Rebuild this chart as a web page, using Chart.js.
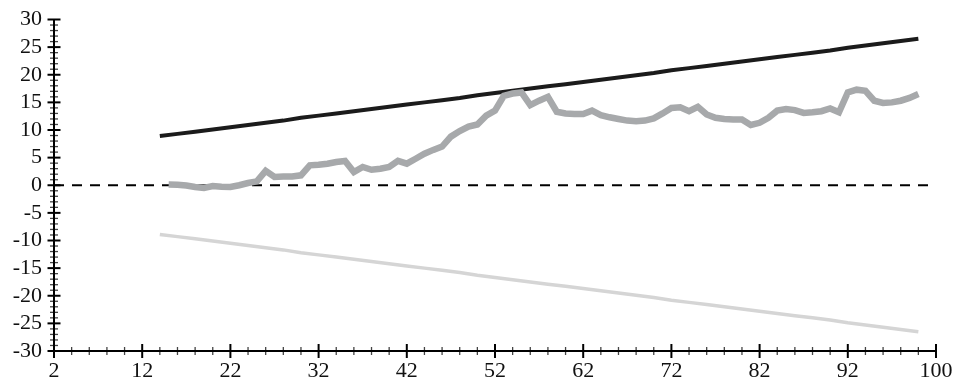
<!DOCTYPE html>
<html>
<head>
<meta charset="utf-8">
<title>CUSUM chart</title>
<script src="https://cdn.jsdelivr.net/npm/chart.js@4.4.1/dist/chart.umd.min.js"></script>
<style>
  html, body { margin: 0; padding: 0; background: #ffffff; }
  #wrap { width: 954px; height: 382px; }
</style>
</head>
<body>
<div id="wrap"><canvas id="chart" width="954" height="382"></canvas></div>
<script>
// Observation numbers and cumulative sum
const cusumX = [15,16,17,18,19,20,21,22,23,24,25,26,27,28,29,30,31,32,33,34,35,36,37,38,39,40,
  41,42,43,44,45,46,47,48,49,50,51,52,53,54,55,56,57,58,59,60,61,62,63,64,65,66,67,68,69,70,
  71,72,73,74,75,76,77,78,79,80,81,82,83,84,85,86,87,88,89,90,91,92,93,94,95,96,97,98,99,100];
const cusum = [0.15,0.1,-0.05,-0.3,-0.5,-0.15,-0.25,-0.3,0.0,0.4,0.7,2.6,1.5,1.6,1.6,1.8,3.6,3.7,3.9,4.2,4.4,
  2.4,3.3,2.8,3.0,3.3,4.4,3.9,4.8,5.7,6.4,7.0,8.8,9.8,10.6,11.0,12.6,13.5,16.2,16.6,16.8,
  14.5,15.3,16.0,13.3,13.0,12.9,12.9,13.5,12.7,12.3,12.0,11.7,11.6,11.7,12.1,
  13.0,14.0,14.1,13.4,14.2,12.8,12.2,12.0,11.9,11.9,10.9,11.3,12.2,13.5,13.8,
  13.6,13.1,13.2,13.4,13.9,13.2,16.8,17.3,17.1,15.3,14.9,15.0,15.3,15.8,16.5];

// Decision limits
const limitX = [14,16,18,20,22,24,26,28,30,32,34,36,38,40,42,44,46,48,50,52,54,56,
  58,60,62,64,66,68,70,72,74,76,78,80,82,84,86,88,90,92,94,96,98,100];
const upperLimit = [8.9,9.3,9.7,10.1,10.5,10.9,11.3,11.7,12.2,12.6,13.0,13.4,13.8,14.2,14.6,15.0,
  15.4,15.8,16.3,16.7,17.1,17.5,17.9,18.3,18.7,19.1,19.5,19.9,20.3,20.8,21.2,21.6,22.0,22.4,
  22.8,23.2,23.6,24.0,24.4,24.9,25.3,25.7,26.1,26.5];
const lowerLimit = [-8.9,-9.3,-9.7,-10.1,-10.5,-10.9,-11.3,-11.7,-12.2,-12.6,-13.0,-13.4,-13.8,-14.2,
  -14.6,-15.0,-15.4,-15.8,-16.3,-16.7,-17.1,-17.5,-17.9,-18.3,-18.7,-19.1,-19.5,-19.9,-20.3,
  -20.8,-21.2,-21.6,-22.0,-22.4,-22.8,-23.2,-23.6,-24.0,-24.4,-24.9,-25.3,-25.7,-26.1,-26.5];

// Reference line at zero
const zeroX = [2, 102];
const zeroY = [0, 0];

// Axis ticks
const xTickValues = [2,12,22,32,42,52,62,72,82,92,102];
const xTickLabels = ['2','12','22','32','42','52','62','72','82','92','100'];
const yTickValues = [-30,-25,-20,-15,-10,-5,0,5,10,15,20,25,30];

const toPoints = (xs, ys) => xs.map((x, i) => ({ x: x, y: ys[i] }));

const FONT = { family: '"Liberation Serif", "DejaVu Serif", serif', size: 22 };

// Axis lines with major/minor tick marks crossing the axis
const axisFrame = {
  id: 'axisFrame',
  afterDatasetsDraw(chart) {
    const { ctx, chartArea: a, scales: { x, y } } = chart;
    const seg = (x1, y1, x2, y2) => { ctx.beginPath(); ctx.moveTo(x1, y1); ctx.lineTo(x2, y2); ctx.stroke(); };
    ctx.save();
    ctx.lineCap = 'butt';

    // minor ticks
    ctx.strokeStyle = '#444';
    ctx.lineWidth = 1.3;
    for (let v = -30; v <= 30; v += 1) {
      if (v % 5 === 0) continue;
      const py = y.getPixelForValue(v);
      seg(a.left - 4, py, a.left + 4, py);
    }
    for (let v = 2; v <= 102; v += 2) {
      if ((v - 2) % 10 === 0) continue;
      const px = x.getPixelForValue(v);
      seg(px, a.bottom - 4, px, a.bottom + 4);
    }

    // major ticks
    ctx.strokeStyle = '#000';
    ctx.lineWidth = 2;
    yTickValues.forEach(v => {
      const py = y.getPixelForValue(v);
      seg(a.left - 6.5, py, a.left + 6.5, py);
    });
    xTickValues.forEach(v => {
      const px = x.getPixelForValue(v);
      seg(px, a.bottom - 7, px, a.bottom + 7);
    });

    // axis lines
    seg(a.left, a.top, a.left, a.bottom + 1);
    seg(a.left - 1, a.bottom, a.right + 1, a.bottom);
    ctx.restore();
  }
};

new Chart(document.getElementById('chart'), {
  type: 'line',
  data: {
    datasets: [
      {
        label: 'CUSUM',
        data: toPoints(cusumX, cusum),
        borderColor: '#a7a9ab',
        borderWidth: 6.5,
        order: 0
      },
      {
        label: 'Upper limit',
        data: toPoints(limitX, upperLimit),
        borderColor: '#1b1b1b',
        borderWidth: 4,
        order: 1
      },
      {
        label: 'Lower limit',
        data: toPoints(limitX, lowerLimit),
        borderColor: '#d5d5d5',
        borderWidth: 3.5,
        order: 2
      },
      {
        label: 'Zero',
        data: toPoints(zeroX, zeroY),
        borderColor: '#000000',
        borderWidth: 2,
        borderDash: [10, 8],
        order: 3
      }
    ]
  },
  options: {
    responsive: false,
    animation: false,
    elements: {
      point: { radius: 0, hoverRadius: 0 },
      line: { tension: 0, fill: false, borderCapStyle: 'butt', borderJoinStyle: 'miter' }
    },
    layout: { padding: { top: 19.5, right: 18, left: 0, bottom: 0 } },
    plugins: { legend: { display: false }, tooltip: { enabled: false } },
    scales: {
      x: {
        type: 'linear',
        min: 2,
        max: 102,
        grid: { display: false, drawTicks: false },
        border: { display: false },
        afterBuildTicks: s => { s.ticks = xTickValues.map(v => ({ value: v })); },
        afterFit: s => { s.height = 31; s.paddingLeft = 0; s.paddingRight = 0; },
        ticks: {
          autoSkip: false,
          maxRotation: 0,
          padding: 7,
          color: '#111',
          font: FONT,
          callback: (v, i) => xTickLabels[i]
        }
      },
      y: {
        type: 'linear',
        min: -30,
        max: 30,
        grid: { display: false, drawTicks: false },
        border: { display: false },
        afterBuildTicks: s => { s.ticks = yTickValues.map(v => ({ value: v })); },
        afterFit: s => { s.width = 54; s.paddingTop = 0; s.paddingBottom = 0; },
        ticks: {
          autoSkip: false,
          padding: 12,
          color: '#111',
          font: FONT,
          callback: v => String(v)
        }
      }
    }
  },
  plugins: [axisFrame]
});
</script>
</body>
</html>
